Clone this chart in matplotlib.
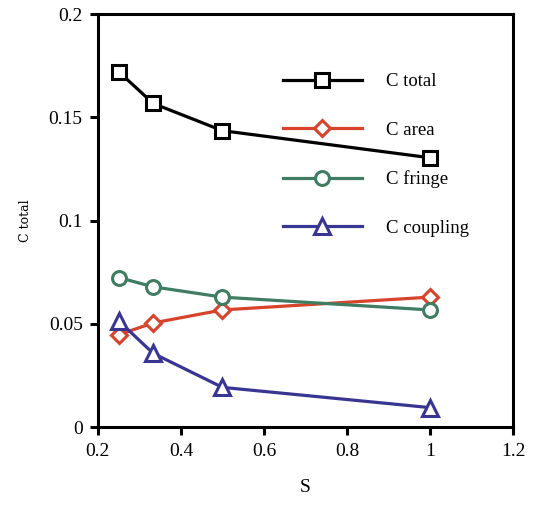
import matplotlib
matplotlib.use("Agg")
import matplotlib.pyplot as plt

s = [0.25, 0.333, 0.5, 1.0]
c_total = [0.1722, 0.1568, 0.1436, 0.1305]
c_area = [0.0448, 0.0505, 0.0568, 0.0630]
c_fringe = [0.0725, 0.0680, 0.0630, 0.0568]
c_coupling = [0.0515, 0.0358, 0.0193, 0.0095]

plt.rcParams['font.family'] = ['Liberation Serif', 'DejaVu Serif']

fig = plt.figure(figsize=(5.35, 5.08), dpi=100)
ax = fig.add_axes([0.183, 0.159, 0.776, 0.813])

lw = 2.3
mew = 2.2
ax.plot(s, c_total, color='black', lw=lw, marker='s', ms=10, mfc='white', mew=mew, label='C total')
ax.plot(s, c_area, color='#d8432c', lw=lw, marker='D', ms=8, mfc='white', mew=mew, label='C area')
ax.plot(s, c_fringe, color='#3e7d62', lw=lw, marker='o', ms=10, mfc='white', mew=mew, label='C fringe')
ax.plot(s, c_coupling, color='#393593', lw=lw, marker='^', ms=11, mfc='white', mew=mew, label='C coupling')

ax.set_xlim(0.2, 1.2)
ax.set_ylim(0, 0.2)
ax.set_xticks([0.2, 0.4, 0.6, 0.8, 1.0, 1.2])
ax.set_xticklabels(['0.2', '0.4', '0.6', '0.8', '1', '1.2'])
ax.set_yticks([0, 0.05, 0.1, 0.15, 0.2])
ax.set_yticklabels(['0', '0.05', '0.1', '0.15', '0.2'])

for sp in ax.spines.values():
    sp.set_linewidth(2.2)
ax.tick_params(direction='out', length=6, width=2.2, labelsize=14, pad=5,
               top=False, right=False)

ax.set_xlabel('S', fontsize=14, labelpad=14)
ax.set_ylabel('C total', fontsize=9, family='DejaVu Serif', labelpad=12)

ax.legend(loc='upper left', bbox_to_anchor=(0.446, 0.857), frameon=False,
          fontsize=13.5, numpoints=1, handlelength=4.2, handletextpad=1.3,
          labelspacing=1.68, borderpad=0, borderaxespad=0)

fig.savefig('out.png', dpi=100)
